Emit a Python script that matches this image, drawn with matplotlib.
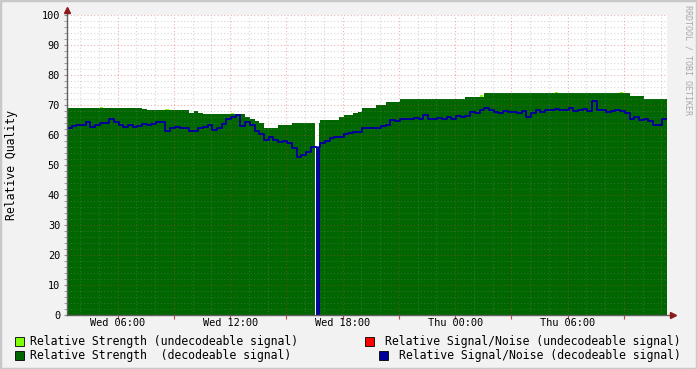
import numpy as np
import matplotlib
matplotlib.use("Agg")
import matplotlib.pyplot as plt
import matplotlib.dates as mdates
import matplotlib.ticker as mticker
from matplotlib.patches import Rectangle

# 15 minute samples starting Wed 03:18
start = np.datetime64("2024-01-03T03:18")
step_min = 15

# relative strength, decodeable signal (green area)
strength = [
    69, 69, 69, 69, 69, 69, 69, 69, 69, 69,
    69, 69, 69, 69, 69, 69, 68.7, 68.3, 68.3, 68.3,
    68.3, 68.3, 68.3, 68.3, 68.3, 68.3, 67.5, 68, 67.5, 67,
    67, 67, 67, 67, 67, 67, 67, 67, 66, 65.5,
    64.7, 64, 62.5, 62.5, 62.5, 63.5, 63.5, 63.5, 64, 64,
    64, 64, 64, 64, 65, 65, 65, 65, 66, 66.7,
    66.7, 67.3, 67.7, 69, 69, 69, 70, 70, 71, 71,
    71, 72, 72, 72, 72, 72, 72, 72, 72, 72,
    72, 72, 72, 72, 72, 72.7, 72.7, 72.7, 72.7, 74,
    74, 74, 74, 74, 74, 74, 74, 74, 74, 74,
    74, 74, 74, 74, 74, 74, 74, 74, 74, 74,
    74, 74, 74, 74, 74, 74, 74, 74, 74, 74,
    73, 73, 73, 72, 72, 72, 72, 72,
]

# relative signal/noise, decodeable signal (blue line)
snr = [
    62.5, 63, 63.3, 63.3, 64.4, 62.8, 63.2, 64, 64, 65.5,
    64.5, 63.3, 62.8, 63.5, 62.8, 63, 63.8, 63.2, 63.8, 64.5,
    64.2, 61.2, 62.5, 62.8, 62.3, 62.5, 61.3, 61.2, 62.5, 62.8,
    63.5, 61.7, 62.5, 63.6, 65.5, 66.1, 66.7, 63, 64.4, 63.5,
    61.3, 60.5, 58.3, 59.5, 58.3, 57.8, 58, 57.2, 55.7, 52.7,
    53.3, 54.4, 56.1, 56.1, 57.2, 58, 58.9, 59.4, 59.4, 60.3,
    60.6, 61, 61.1, 62.2, 62.2, 62.5, 62.2, 63.1, 63.3, 65,
    64.7, 65.5, 65.2, 65.5, 65.8, 65.5, 66.7, 65.5, 65.3, 65.8,
    65.5, 65.9, 65.3, 66.2, 65.9, 66.5, 67.8, 67.5, 68.3, 69,
    68.3, 67.8, 67.5, 68, 67.8, 67.8, 67.5, 68, 66.1, 67.5,
    68.3, 67.8, 68.5, 68.3, 68.8, 68.3, 68.5, 69, 68, 68.3,
    68.8, 68, 71.5, 68.5, 68.3, 67.8, 68, 68.5, 68, 67.5,
    65.5, 66.1, 65, 65.3, 64.8, 63.5, 63.3, 65.5,
]

# one lost 5 minute sample (receiver dropout), index on the 5 min grid
dropout_5min = 160

# a few samples where undecodeable strength pokes above the green area
undec_idx = [7, 21, 35, 88, 104, 118]
undec_val = [69.4, 68.7, 67.5, 73.2, 74.4, 74.4]

legend_rows = [
    ("Relative Strength (undecodeable signal)", "#80FF00",
     "Relative Signal/Noise (undecodeable signal)", "#FF0000"),
    ("Relative Strength  (decodeable signal)", "#006600",
     "Relative Signal/Noise (decodeable signal)", "#000099"),
]

# expand to the 5 minute rrd step
sub = 3
g = np.repeat(np.array(strength, float), sub)
b = np.repeat(np.array(snr, float), sub)
u = np.full(len(g), np.nan)
for i, v in zip(undec_idx, undec_val):
    u[i * sub:(i + 1) * sub] = v
g[dropout_5min] = np.nan
b[dropout_5min] = 0
n = len(g)
g = np.append(g, g[-1])
b = np.append(b, b[-1])
u = np.append(u, np.nan)
t = start + np.arange(n + 1) * np.timedelta64(step_min * 60 // sub, "s")
t = t.astype("datetime64[s]").astype(object)

mono = "DejaVu Sans Mono"
W, H = 697, 369
fig = plt.figure(figsize=(W / 100, H / 100), dpi=100, facecolor="#F2F2F2")
ax = fig.add_axes([67 / W, 1 - 315 / H, 600 / W, 300 / H])
ax.set_facecolor("white")

ax.fill_between(t, g, 0, step="post", color="#006600", lw=0, zorder=1)
ax.fill_between(t, np.where(np.isnan(u), np.nan, g), u, step="post",
                color="#80FF00", lw=0, zorder=1)
ax.step(t, b, where="post", color="#000099", lw=1.4, zorder=3)

ax.set_xlim(t[0], t[-1])
ax.set_ylim(0, 100)

ax.xaxis.set_major_locator(mdates.HourLocator(byhour=range(0, 24, 3)))
ax.xaxis.set_minor_locator(mdates.HourLocator())


def xlab(x, pos):
    d = mdates.num2date(x)
    return d.strftime("%a %H:%M") if d.hour % 6 == 0 else ""


ax.xaxis.set_major_formatter(mticker.FuncFormatter(xlab))
ax.yaxis.set_major_locator(mticker.MultipleLocator(10))
ax.yaxis.set_minor_locator(mticker.MultipleLocator(2))

ax.set_axisbelow(False)
ax.grid(which="minor", color="#8A8A8A", alpha=0.35, ls=(0, (1, 2)), lw=0.8)
ax.grid(which="major", color="#D04040", alpha=0.4, ls=(0, (1, 2)), lw=0.8)

ax.tick_params(axis="x", which="major", length=3, color="#C04040",
               labelsize=7.4, pad=-0.5)
ax.tick_params(axis="x", which="minor", length=0)
ax.tick_params(axis="y", which="both", length=2, color="#909090",
               labelsize=7.4, pad=3)
for lab in ax.get_xticklabels() + ax.get_yticklabels():
    lab.set_family(mono)

for s in ax.spines.values():
    s.set_visible(False)
ax.plot([0, 0], [0, 1.017], transform=ax.transAxes, color="#606060",
        lw=1, clip_on=False, zorder=4)
ax.plot([0, 1.01], [0, 0], transform=ax.transAxes, color="#606060",
        lw=1, clip_on=False, zorder=4)
ax.plot([0], [1.017], marker="^", ms=4, color="#8B1A1A",
        transform=ax.transAxes, clip_on=False, zorder=5)
ax.plot([1.01], [0], marker=">", ms=4, color="#8B1A1A",
        transform=ax.transAxes, clip_on=False, zorder=5)

fig.text(12 / W, 1 - 165 / H, "Relative Quality", rotation=90,
         ha="center", va="center", family=mono, fontsize=8.3)
fig.text(688 / W, 1 - 5 / H, "RRDTOOL / TOBI OETIKER", rotation=270,
         ha="center", va="top", family=mono, fontsize=6.0, color="#A8A8A8")

# legend, drawn by hand like rrdtool does
row_y = [341, 355]
for (ltxt, lcol, rtxt, rcol), y in zip(legend_rows, row_y):
    fig.patches.append(Rectangle((15 / W, 1 - (y + 4.5) / H), 9 / W, 9 / H,
                                 transform=fig.transFigure, facecolor=lcol,
                                 edgecolor="black", lw=0.6))
    fig.text(30 / W, 1 - y / H, ltxt, ha="left", va="center",
             family=mono, fontsize=8.3)
    fig.text(681 / W, 1 - y / H, rtxt, ha="right", va="center",
             family=mono, fontsize=8.3)
    sq_x = 681 - len(rtxt) * 7.0 - 15
    fig.patches.append(Rectangle((sq_x / W, 1 - (y + 4.5) / H), 9 / W, 9 / H,
                                 transform=fig.transFigure, facecolor=rcol,
                                 edgecolor="black", lw=0.6))

# image border
fig.patches.append(Rectangle((0, 0), 1, 1, transform=fig.transFigure,
                             fill=False, edgecolor="#C8C8C8", lw=2.5))

fig.savefig("out.png", dpi=100, facecolor=fig.get_facecolor())
